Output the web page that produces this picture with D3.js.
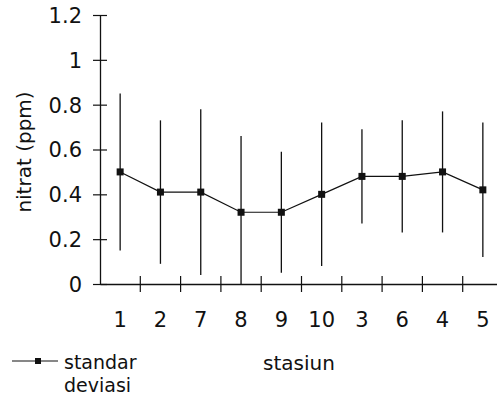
<!DOCTYPE html>
<html>
<head>
<meta charset="utf-8">
<script src="https://cdn.jsdelivr.net/npm/d3@7"></script>
<style>
  body { margin: 0; background: #fff; }
  text { font-family: "DejaVu Sans", Verdana, sans-serif; fill: #111; }
</style>
</head>
<body>
<svg width="497" height="403"></svg>
<script>
var stasiun = ["1", "2", "7", "8", "9", "10", "3", "6", "4", "5"];
var nitrat  = [0.50, 0.41, 0.41, 0.32, 0.32, 0.40, 0.48, 0.48, 0.50, 0.42];
var sd      = [0.35, 0.32, 0.37, 0.34, 0.27, 0.32, 0.21, 0.25, 0.27, 0.30];
var yTicks  = [0, 0.2, 0.4, 0.6, 0.8, 1, 1.2];

var svg = d3.select("svg"),
    plotLeft = 100,
    plotTop = 15,
    plotBottom = 284;

var x = d3.scaleBand()
    .domain(stasiun)
    .range([plotLeft, 503]);

var y = d3.scaleLinear()
    .domain([0, 1.2])
    .range([plotBottom, plotTop]);

// y axis
var yAxis = svg.append("g")
    .attr("transform", "translate(" + plotLeft + ",0)")
    .call(d3.axisLeft(y).tickValues(yTicks).tickSize(0).tickPadding(18)
      .tickFormat(function(d) { return d3.format("")(d); }));
yAxis.select(".domain").attr("stroke", "#111").attr("stroke-width", 1.3);
yAxis.selectAll("text").attr("font-size", 21).attr("dy", "0.35em");
yAxis.selectAll(".tick").append("line")
    .attr("x1", -7).attr("x2", 7)
    .attr("stroke", "#111").attr("stroke-width", 1.2);

// x axis
var xAxis = svg.append("g")
    .attr("transform", "translate(0," + plotBottom + ")")
    .call(d3.axisBottom(x).tickSize(0).tickPadding(28));
xAxis.select(".domain").attr("stroke", "#111").attr("stroke-width", 1.5);
xAxis.selectAll("text").attr("font-size", 21);
xAxis.selectAll(".sep")
    .data(stasiun.slice(1))
    .enter().append("line")
    .attr("x1", function(d) { return x(d); })
    .attr("x2", function(d) { return x(d); })
    .attr("y1", -8).attr("y2", 8)
    .attr("stroke", "#111").attr("stroke-width", 1.2);

// error bars
svg.append("g").selectAll("line")
    .data(stasiun)
    .enter().append("line")
    .attr("x1", function(d) { return x(d) + x.bandwidth() / 2; })
    .attr("x2", function(d) { return x(d) + x.bandwidth() / 2; })
    .attr("y1", function(d, i) { return y(nitrat[i] + sd[i]); })
    .attr("y2", function(d, i) { return Math.min(plotBottom, y(nitrat[i] - sd[i])); })
    .attr("stroke", "#111").attr("stroke-width", 1.3);

// mean line
var line = d3.line()
    .x(function(d, i) { return x(stasiun[i]) + x.bandwidth() / 2; })
    .y(function(d) { return y(d); });

svg.append("path")
    .datum(nitrat)
    .attr("d", line)
    .attr("fill", "none")
    .attr("stroke", "#111")
    .attr("stroke-width", 1.2);

svg.append("g").selectAll("rect")
    .data(nitrat)
    .enter().append("rect")
    .attr("x", function(d, i) { return x(stasiun[i]) + x.bandwidth() / 2 - 3.5; })
    .attr("y", function(d) { return y(d) - 3.5; })
    .attr("width", 7).attr("height", 7)
    .attr("fill", "#111");

// axis titles
svg.append("text")
    .attr("transform", "translate(31," + 152 + ") rotate(-90)")
    .attr("text-anchor", "middle")
    .attr("font-size", 20)
    .text("nitrat (ppm)");

svg.append("text")
    .attr("x", 299).attr("y", 370)
    .attr("text-anchor", "middle")
    .attr("font-size", 20)
    .text("stasiun");

// legend
var legend = svg.append("g");
legend.append("line")
    .attr("x1", 12).attr("x2", 58).attr("y1", 361).attr("y2", 361)
    .attr("stroke", "#111").attr("stroke-width", 1.2);
legend.append("rect")
    .attr("x", 35).attr("y", 358).attr("width", 6).attr("height", 6)
    .attr("fill", "#111");
legend.append("text")
    .attr("x", 64).attr("y", 369).attr("font-size", 19).text("standar");
legend.append("text")
    .attr("x", 64).attr("y", 392).attr("font-size", 19).text("deviasi");
</script>
</body>
</html>
